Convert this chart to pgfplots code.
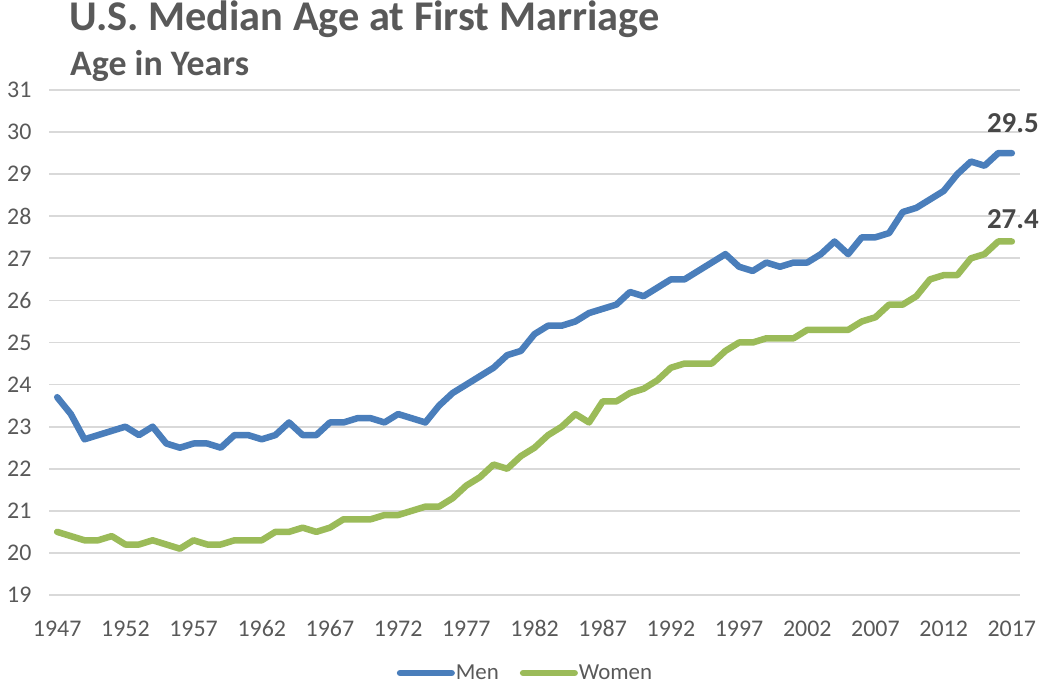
\documentclass[border=0pt]{standalone}
\usepackage{fontspec}
\setmainfont{Carlito}
\usepackage{pgfplots}
\pgfplotsset{compat=1.18}
\definecolor{txt}{HTML}{595959}
\definecolor{menc}{HTML}{4A7EBB}
\definecolor{womc}{HTML}{9BBB59}
\definecolor{gridc}{HTML}{D9D9D9}
\begin{document}
\begin{tikzpicture}
\path[use as bounding box] (-49bp,-92bp) rectangle (996bp,595bp);
\begin{axis}[
  at={(0,0)}, anchor=south west,
  width=971bp, height=505bp, scale only axis,
  xmin=1946.4, xmax=2017.6, ymin=19, ymax=31,
  xtick={1947,1952,...,2017}, ytick={19,20,...,31},
  /pgf/number format/1000 sep={},
  /pgf/number format/assume math mode=true,
  ymajorgrids, grid style={gridc, line width=1.8bp},
  axis line style={draw=none},
  major tick length=0pt,
  tick label style={font=\fontsize{24}{28}\selectfont, text=txt},
  yticklabel style={xshift=-14bp},
  xticklabel style={yshift=-22bp},
  clip=false,
  legend style={at={(476bp,-78bp)}, anchor=center, draw=none, fill=none,
    inner sep=0pt, nodes={inner sep=1bp},
    legend columns=2, font=\fontsize{23}{27}\selectfont, text=txt,
    /tikz/every even column/.append style={column sep=20bp}},
  legend cell align=left,
  legend image code/.code={\draw[#1, line width=6bp, line cap=round] (0bp,0bp) -- (52bp,0bp);},
]
\addplot[menc, line width=6.5bp, line join=round, line cap=round] coordinates {
(1947,23.7)(1948,23.3)(1949,22.7)(1950,22.8)(1951,22.9)(1952,23.0)(1953,22.8)(1954,23.0)(1955,22.6)(1956,22.5)
(1957,22.6)(1958,22.6)(1959,22.5)(1960,22.8)(1961,22.8)(1962,22.7)(1963,22.8)(1964,23.1)(1965,22.8)(1966,22.8)
(1967,23.1)(1968,23.1)(1969,23.2)(1970,23.2)(1971,23.1)(1972,23.3)(1973,23.2)(1974,23.1)(1975,23.5)(1976,23.8)
(1977,24.0)(1978,24.2)(1979,24.4)(1980,24.7)(1981,24.8)(1982,25.2)(1983,25.4)(1984,25.4)(1985,25.5)(1986,25.7)
(1987,25.8)(1988,25.9)(1989,26.2)(1990,26.1)(1991,26.3)(1992,26.5)(1993,26.5)(1994,26.7)(1995,26.9)(1996,27.1)
(1997,26.8)(1998,26.7)(1999,26.9)(2000,26.8)(2001,26.9)(2002,26.9)(2003,27.1)(2004,27.4)(2005,27.1)(2006,27.5)
(2007,27.5)(2008,27.6)(2009,28.1)(2010,28.2)(2011,28.4)(2012,28.6)(2013,29.0)(2014,29.3)(2015,29.2)(2016,29.5)
(2017,29.5)};
\addlegendentry{Men}
\addplot[womc, line width=6.5bp, line join=round, line cap=round] coordinates {
(1947,20.5)(1948,20.4)(1949,20.3)(1950,20.3)(1951,20.4)(1952,20.2)(1953,20.2)(1954,20.3)(1955,20.2)(1956,20.1)
(1957,20.3)(1958,20.2)(1959,20.2)(1960,20.3)(1961,20.3)(1962,20.3)(1963,20.5)(1964,20.5)(1965,20.6)(1966,20.5)
(1967,20.6)(1968,20.8)(1969,20.8)(1970,20.8)(1971,20.9)(1972,20.9)(1973,21.0)(1974,21.1)(1975,21.1)(1976,21.3)
(1977,21.6)(1978,21.8)(1979,22.1)(1980,22.0)(1981,22.3)(1982,22.5)(1983,22.8)(1984,23.0)(1985,23.3)(1986,23.1)
(1987,23.6)(1988,23.6)(1989,23.8)(1990,23.9)(1991,24.1)(1992,24.4)(1993,24.5)(1994,24.5)(1995,24.5)(1996,24.8)
(1997,25.0)(1998,25.0)(1999,25.1)(2000,25.1)(2001,25.1)(2002,25.3)(2003,25.3)(2004,25.3)(2005,25.3)(2006,25.5)
(2007,25.6)(2008,25.9)(2009,25.9)(2010,26.1)(2011,26.5)(2012,26.6)(2013,26.6)(2014,27.0)(2015,27.1)(2016,27.4)
(2017,27.4)};
\addlegendentry{Women}
\node[anchor=base, text=txt!80!black, font=\bfseries\fontsize{29}{33}\selectfont] at (axis cs:2017,29.5) [yshift=21bp, xshift=1bp] {29.5};
\node[anchor=base, text=txt!80!black, font=\bfseries\fontsize{29}{33}\selectfont] at (axis cs:2017,27.4) [yshift=13bp, xshift=1bp] {27.4};
\end{axis}
\node[anchor=base west, inner sep=0pt, text=txt, font=\bfseries\fontsize{42.5}{48}\selectfont] at (20bp,564bp) {U.S. Median Age at First Marriage};
\node[anchor=base west, inner sep=0pt, text=txt, font=\bfseries\fontsize{36}{40}\selectfont] at (21bp,519bp) {Age in Years};
\end{tikzpicture}
\end{document}
